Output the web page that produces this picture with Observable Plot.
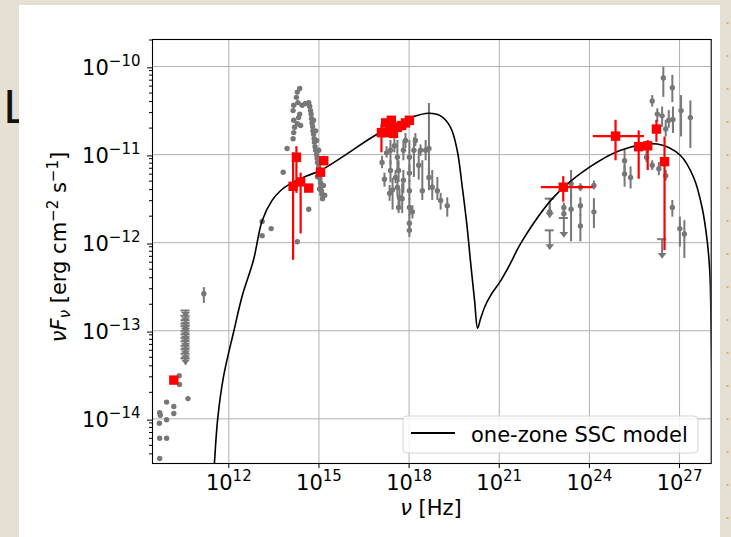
<!DOCTYPE html>
<html>
<head>
<meta charset="utf-8">
<script src="https://cdn.jsdelivr.net/npm/d3@7"></script>
<script src="https://cdn.jsdelivr.net/npm/@observablehq/plot@0.6"></script>
<style>
  html, body { margin: 0; padding: 0; }
  body { width: 731px; height: 537px; background: #e5dfd4; position: relative; overflow: hidden; }
  #deco { position: absolute; left: 0; top: 0; }
  #panel { position: absolute; left: 19px; top: 5px; width: 701px; height: 540px; background: #fff; }
  #chart { position: absolute; left: 0; top: 0; }
</style>
</head>
<body>
<svg id="deco" width="731" height="537">
  <text x="3.5" y="123" font-family="Liberation Sans, Arial, sans-serif" font-size="48" fill="#111">L</text>
  <line x1="727.5" y1="22" x2="727.5" y2="537" stroke="#d9a04a" stroke-width="2" stroke-dasharray="2 31" opacity="0.75"/>
</svg>
<div id="panel"></div>
<div id="chart"></div>
<script>
// ---- axis ticks (log10 exponents) ----
const xTickExps = [12, 15, 18, 21, 24, 27];
const yTickExps = [-14, -13, -12, -11, -10];

// ---- one-zone SSC model curve: log10(nu/Hz), log10(nuFnu / erg cm^-2 s^-1) ----
const modelLogNu = [11.46, 11.52, 11.63, 11.83, 12.17, 12.45, 12.82, 13.11, 13.44, 13.72, 14.05, 14.61, 15.05, 15.72,
  16.88, 18.05, 18.66, 19.05, 19.38, 19.60, 19.77, 19.93, 20.04, 20.18, 20.28, 20.38, 20.54, 20.71, 21.05, 21.38,
  21.71, 22.82, 23.93, 25.04, 26.26, 27.03, 27.47, 27.75, 27.92, 28.01, 28.05, 28.10];
const modelLogFlux = [-14.81, -14.51, -14.00, -13.51, -13.00, -12.60, -12.20, -11.75, -11.52, -11.41, -11.33, -11.24, -11.18, -11.04,
  -10.78, -10.58, -10.53, -10.56, -10.69, -10.95, -11.37, -11.82, -12.20, -12.66, -12.97, -12.86, -12.71, -12.60, -12.43, -12.23,
  -12.01, -11.48, -11.16, -10.95, -10.88, -11.01, -11.26, -11.60, -11.98, -12.35, -13.00, -14.02];

// ---- archival data without error bars (radio, optical/UV) ----
const archDotLogNu = [
  9.70, 9.69, 9.93, 9.93, 10.17, 10.17, 9.70, 9.93, 9.70, 10.64, 10.35, 10.36, 9.72,
  13.11, 13.41, 13.11,
  14.36, 14.28, 14.25, 14.30, 14.16, 14.44, 14.55, 14.14, 14.36, 14.16, 14.28, 14.39, 14.16, 14.14, 13.94, 13.81, 14.66, 14.28, 14.32, 14.19,
  14.66, 14.69, 14.72, 14.74, 14.75, 14.77, 14.79, 14.80, 14.82, 14.84, 14.85, 14.87, 14.89, 14.92, 14.94, 14.95, 14.99, 15.00,
  15.02, 15.03, 15.05, 15.07, 15.08, 15.10, 15.12, 14.82, 14.89, 14.92, 14.99, 15.05, 15.12, 15.15, 15.19, 14.95, 15.02];
const archDotLogFlux = [
  -13.93, -14.05, -13.81, -14.01, -13.86, -13.94, -14.22, -14.22, -14.45, -13.77, -13.51, -13.61, -13.96,
  -11.76, -11.84, -11.92,
  -10.25, -10.29, -10.35, -10.41, -10.44, -10.44, -10.42, -10.50, -10.54, -10.61, -10.65, -10.67, -10.75, -10.82, -10.93, -11.20, -11.62, -11.99, -10.58, -10.69,
  -10.41, -10.45, -10.50, -10.54, -10.59, -10.64, -10.68, -10.73, -10.77, -10.82, -10.86, -10.91, -10.95, -11.00, -11.04, -11.09, -11.14, -11.18,
  -11.23, -11.27, -11.32, -11.36, -11.41, -11.45, -11.50, -10.61, -10.73, -10.84, -10.95, -11.07, -11.20, -11.35, -11.46, -11.25, -11.39];

// ---- archival data with flux error bars (radio, X-ray, gamma-ray) ----
const archBarLogNu = [11.17,
  17.10, 17.18, 17.38, 17.38, 17.35, 17.45, 17.61, 17.65, 17.61, 17.68, 17.65, 17.81, 17.81, 17.77, 18.01, 18.01, 18.01, 18.01, 18.01,
  18.01, 18.16, 18.32, 18.44, 18.66, 18.66, 18.77, 18.94, 19.05, 19.27, 17.51, 17.88, 17.25, 18.21, 18.38, 18.11, 18.55, 17.55,
  22.68, 23.15, 23.15, 23.39, 23.39, 23.70, 23.70, 23.70, 24.15, 24.15, 25.17, 25.17, 25.37, 25.90, 26.09, 26.09, 26.31, 26.26,
  26.42, 26.46, 26.54, 26.54, 26.64, 26.76, 26.76, 26.78, 27.01, 27.05, 27.16, 27.36];
const archBarLogFlux = [-12.58,
  -11.09, -11.28, -10.95, -11.18, -11.44, -11.40, -11.03, -11.18, -11.37, -11.49, -11.60, -10.95, -11.29, -11.50, -11.03, -11.21, -11.41, -11.60, -11.78,
  -11.86, -10.95, -11.12, -11.41, -10.93, -11.26, -11.37, -11.41, -11.52, -11.58, -10.90, -10.84, -10.98, -10.84, -10.95, -11.65, -10.95, -11.26,
  -11.65, -11.60, -11.67, -11.33, -11.62, -11.37, -11.58, -11.81, -11.35, -11.65, -11.07, -11.22, -11.26, -11.03, -11.12, -10.39, -11.16, -10.54,
  -10.56, -10.13, -11.24, -10.71, -10.61, -10.24, -11.60, -10.60, -11.84, -10.50, -11.90, -10.58];
const archBarLogLo = [-12.69,
  -11.16, -11.37, -11.12, -11.32, -11.53, -11.63, -11.20, -11.32, -11.48, -11.58, -11.67, -11.07, -11.44, -11.67, -11.18, -11.32, -11.52, -11.70, -11.88,
  -11.94, -11.26, -11.29, -11.52, -11.41, -11.35, -11.52, -11.52, -11.63, -11.71, -10.98, -10.93, -11.04, -10.91, -11.02, -11.73, -11.07, -11.33,
  -11.70, -11.65, -11.72, -11.50, -11.99, -11.42, -11.70, -11.99, -11.40, -11.84, -11.20, -11.37, -11.39, -11.09, -11.18, -10.46, -11.24, -10.63,
  -10.69, -10.35, -11.30, -10.80, -10.70, -10.41, -11.71, -10.76, -12.05, -10.80, -12.18, -10.93];
const archBarLogHi = [-12.51,
  -11.02, -11.21, -10.84, -11.07, -11.35, -11.27, -10.84, -11.07, -11.27, -11.39, -11.52, -10.84, -11.18, -11.33, -10.84, -11.12, -11.29, -11.50, -11.68,
  -11.77, -10.81, -10.95, -11.07, -10.42, -11.16, -11.18, -11.26, -11.44, -11.49, -10.82, -10.76, -10.91, -10.76, -10.89, -11.58, -10.84, -11.18,
  -11.60, -11.55, -11.62, -11.18, -11.45, -11.33, -11.49, -11.68, -11.30, -11.50, -10.95, -11.12, -11.14, -10.95, -11.07, -10.33, -11.09, -10.48,
  -10.46, -10.01, -11.18, -10.61, -10.50, -10.10, -11.52, -10.46, -11.71, -10.33, -11.75, -10.39];

// ---- archival upper limits ----
const radioUlLogNu = [10.56, 10.56, 10.56, 10.56, 10.56, 10.56, 10.56, 10.56, 10.56, 10.56, 10.56, 10.56, 10.56];
const radioUlLogFlux = [-12.77, -12.83, -12.88, -12.92, -12.95, -13.00, -13.04, -13.08, -13.12, -13.17, -13.21, -13.26, -13.31];
const gammaUlLogNu = [22.68, 22.68, 23.15, 26.42];
const gammaUlLogFlux = [-11.50, -11.86, -11.72, -11.96];

// ---- contemporaneous data (red) ----
const redLogNu = [10.17,
  14.25, 14.14, 14.39, 14.66, 15.16, 15.05,
  17.08, 17.22, 17.35, 17.48, 17.61, 17.75, 17.88, 18.01, 17.41, 17.25,
  23.13, 24.87, 25.64, 25.94, 26.23, 26.50];
const redLogFlux = [-13.56,
  -11.03, -11.36, -11.31, -11.38, -11.07, -11.20,
  -10.75, -10.64, -10.70, -10.76, -10.69, -10.67, -10.64, -10.61, -10.61, -10.75,
  -11.37, -10.79, -10.91, -10.90, -10.71, -11.08];
const redLogLo = [null,
  -11.44, -12.20, -11.90, null, -11.12, -11.25,
  -10.98, null, null, null, null, null, null, null, null, null,
  -11.54, -11.07, -11.28, -11.18, -10.86, -12.09];
const redLogHi = [null,
  -10.91, -10.98, -11.21, null, -11.02, -11.15,
  -10.66, null, null, null, null, null, null, null, null, null,
  -11.25, -10.61, -10.73, -10.84, -10.61, -10.80];
const redLogNuLo = [null, null, null, null, null, null, null,
  null, null, null, null, null, null, null, null, null, null,
  22.40, 24.13, null, null, null, null];
const redLogNuHi = [null, null, null, null, null, null, null,
  null, null, null, null, null, null, null, null, null, null,
  24.13, 25.83, null, null, null, null];

const legendLabel = "one-zone SSC model";

// ---- build tables ----
const p10 = e => Math.pow(10, e);
const GRAY = "#777777";
const RED = "#ff0000";

const model = modelLogNu.map((n, i) => ({nu: p10(n), f: p10(modelLogFlux[i])}));
const archDots = archDotLogNu.map((n, i) => ({nu: p10(n), f: p10(archDotLogFlux[i])}));
const archBars = archBarLogNu.map((n, i) => ({
  nu: p10(n), f: p10(archBarLogFlux[i]), lo: p10(archBarLogLo[i]), hi: p10(archBarLogHi[i])
}));
// upper limits: cap at the limit, arrow dropping below it
function upperLimits(nus, fluxes, drop) {
  return nus.map((n, i) => ({
    nu: p10(n), f: p10(fluxes[i]), tip: p10(fluxes[i] - drop),
    capL: p10(n - 0.15), capR: p10(n + 0.15)
  }));
}
const uls = [...upperLimits(radioUlLogNu, radioUlLogFlux, 0.08), ...upperLimits(gammaUlLogNu, gammaUlLogFlux, 0.22)];
const red = redLogNu.map((n, i) => ({
  nu: p10(n), f: p10(redLogFlux[i]),
  lo: redLogLo[i] == null ? null : p10(redLogLo[i]),
  hi: redLogHi[i] == null ? null : p10(redLogHi[i]),
  nuLo: redLogNuLo[i] == null ? null : p10(redLogNuLo[i]),
  nuHi: redLogNuHi[i] == null ? null : p10(redLogNuHi[i])
}));
const redV = red.filter(d => d.lo != null);
const redH = red.filter(d => d.nuLo != null);

// downward arrowhead with its tip at the anchor point
const arrowDown = {
  draw(ctx, size) {
    const w = Math.sqrt(size) * 0.62, h = w * 1.25;
    ctx.moveTo(-w, -h); ctx.lineTo(w, -h); ctx.lineTo(0, 0); ctx.closePath();
  }
};

const xDomain = [p10(9.461), p10(28.053)];
const yDomain = [p10(-14.507), p10(-9.693)];
const yMinor = [];
for (let d = -15; d <= -10; d++) for (let k = 2; k <= 9; k++) {
  const v = k * p10(d);
  if (v > yDomain[0] && v < yDomain[1]) yMinor.push(v);
}
const expLabel = v => "10^" + String(Math.round(Math.log10(v))).replace("-", "\u2212");

const chart = Plot.plot({
  width: 731, height: 537,
  marginLeft: 152, marginRight: 20.3, marginTop: 39, marginBottom: 74,
  style: {background: "transparent", fontFamily: "'DejaVu Sans', sans-serif", fontSize: "21px", color: "#000", overflow: "visible"},
  x: {type: "log", domain: xDomain},
  y: {type: "log", domain: yDomain},
  marks: [
    Plot.gridX(xTickExps.map(p10), {stroke: "#b0b0b0", strokeOpacity: 1, strokeWidth: 1}),
    Plot.gridY(yTickExps.map(p10), {stroke: "#b0b0b0", strokeOpacity: 1, strokeWidth: 1}),
    // archival points
    Plot.ruleX(archBars, {x: "nu", y1: "lo", y2: "hi", stroke: GRAY, strokeWidth: 2}),
    Plot.dot(archBars, {x: "nu", y: "f", r: 2.7, fill: GRAY}),
    Plot.dot(archDots, {x: "nu", y: "f", r: 2.7, fill: GRAY}),
    // archival upper limits
    Plot.ruleX(uls, {x: "nu", y1: "tip", y2: "f", stroke: GRAY, strokeWidth: 2}),
    Plot.ruleY(uls, {y: "f", x1: "capL", x2: "capR", stroke: GRAY, strokeWidth: 2}),
    Plot.dot(uls, {x: "nu", y: "tip", symbol: arrowDown, r: 4, fill: GRAY}),
    // SSC model
    Plot.line(model, {x: "nu", y: "f", stroke: "black", strokeWidth: 1.6, curve: "catmull-rom", clip: true}),
    // contemporaneous points
    Plot.ruleX(redV, {x: "nu", y1: "lo", y2: "hi", stroke: RED, strokeWidth: 2.2}),
    Plot.ruleY(redH, {y: "f", x1: "nuLo", x2: "nuHi", stroke: RED, strokeWidth: 2.2}),
    Plot.dot(red, {x: "nu", y: "f", symbol: "square", r: 5.3, fill: RED}),
    Plot.frame({stroke: "black", strokeWidth: 1.1}),
    Plot.axisY(yMinor, {tickSize: 3, tickFormat: () => "", label: null}),
    Plot.axisY(yTickExps.map(p10), {tickSize: 5, tickPadding: 7, tickFormat: expLabel, label: null, dy: 1.3}),
    Plot.axisX(xTickExps.map(p10), {tickSize: 5, tickPadding: 7, tickFormat: expLabel, label: null})
  ]
});

// tick labels as 10 with a raised exponent
d3.select(chart).selectAll("text").each(function () {
  const t = this.textContent;
  const m = /^10\^(.+)$/.exec(t);
  if (!m) return;
  const sel = d3.select(this);
  sel.text("10");
  sel.append("tspan").attr("font-size", 15).attr("dy", -9).text(m[1]);
});

const svg = d3.select(chart);
// axis titles
svg.append("text")
  .attr("x", 431).attr("y", 515).attr("text-anchor", "middle")
  .attr("font-size", 21).attr("fill", "#000")
  .html('<tspan font-style="italic">\u03bd</tspan> [Hz]');
svg.append("text")
  .attr("transform", "translate(65.5,247) rotate(-90)").attr("text-anchor", "middle")
  .attr("font-size", 21).attr("fill", "#000")
  .html('<tspan font-style="italic">\u03bdF</tspan><tspan font-style="italic" font-size="15" dy="4">\u03bd</tspan>'
      + '<tspan dy="-4"> [erg cm</tspan><tspan font-size="15" dy="-8">\u22122</tspan>'
      + '<tspan dy="8"> s</tspan><tspan font-size="15" dy="-8">\u22121</tspan><tspan dy="8">]</tspan>');
// legend
const lg = svg.append("g").attr("class", "legend");
lg.append("rect").attr("x", 403).attr("y", 416).attr("width", 295).attr("height", 37).attr("rx", 4)
  .attr("fill", "#fff").attr("fill-opacity", 0.8).attr("stroke", "#d4d4d4");
lg.append("line").attr("x1", 411).attr("x2", 455).attr("y1", 433).attr("y2", 433)
  .attr("stroke", "black").attr("stroke-width", 2);
lg.append("text").attr("x", 471).attr("y", 441.5).attr("text-anchor", "start")
  .attr("font-size", 21).attr("fill", "#000").text(legendLabel);

document.getElementById("chart").appendChild(chart);
</script>
</body>
</html>
